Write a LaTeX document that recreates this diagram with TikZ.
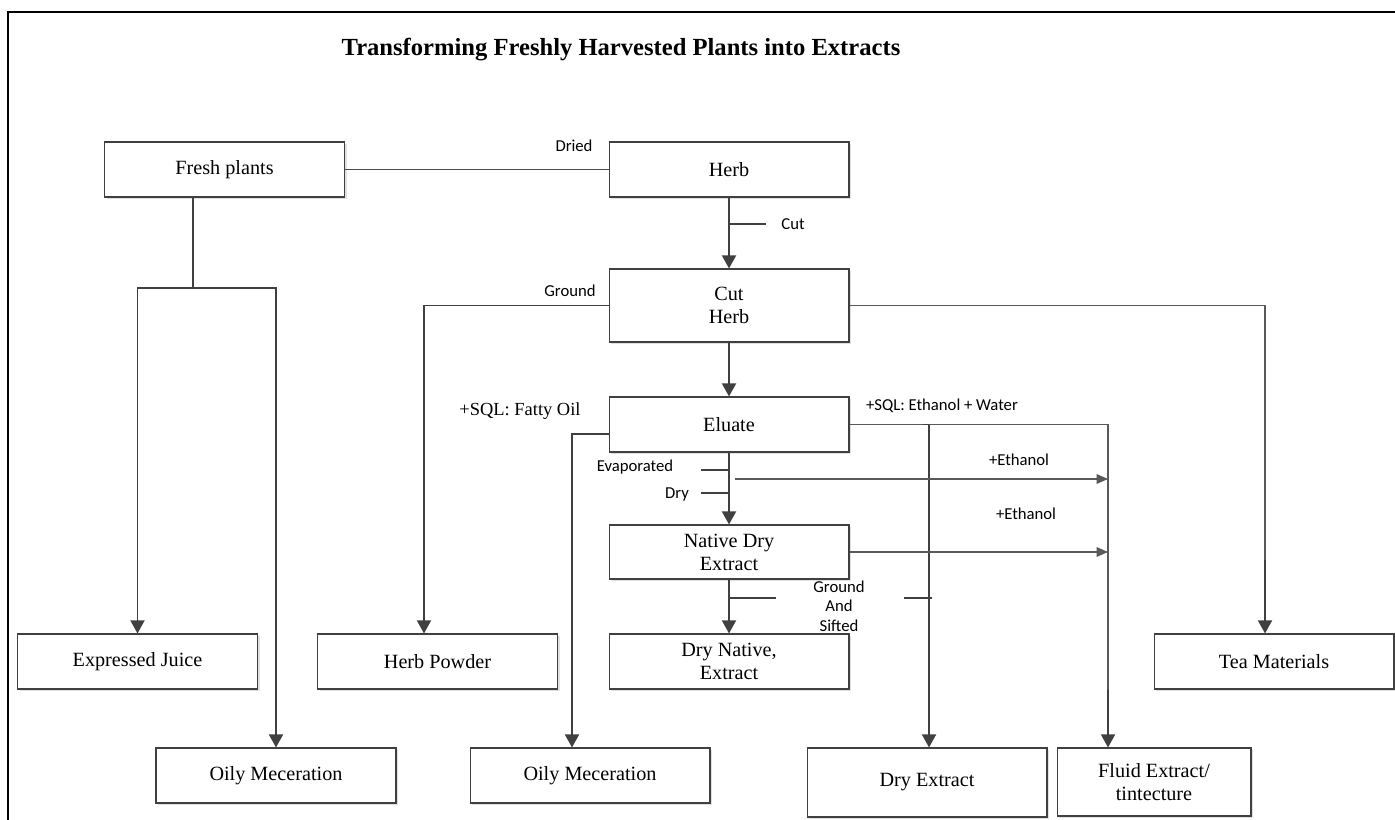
\documentclass[tikz,border=0pt]{standalone}
\usepackage{fontspec}
\setmainfont{Liberation Serif}
\newfontfamily\lblfont{Carlito}
\usetikzlibrary{arrows.meta,shadows}

\begin{document}
\begin{tikzpicture}[x=0.02cm,y=-0.02cm,
  box/.style={draw=black!75,line width=0.6pt,fill=white,minimum width=4.8cm,
    minimum height=1.1cm,align=center,inner sep=1pt,
    font=\fontsize{11.5}{13}\selectfont,
    drop shadow={shadow xshift=1.2pt,shadow yshift=-1.2pt,fill=black!12,opacity=1}},
  lbl/.style={font=\lblfont\fontsize{9.5}{11}\selectfont,align=center,inner sep=0pt},
  main/.style={draw=black!75,line width=1.1pt},
  arr/.style={main,-{Triangle[length=7.5pt,width=8pt]}},
  thin/.style={draw=black!65,line width=0.6pt},
  tarr/.style={thin,-{Triangle[length=6.5pt,width=5.5pt]}}]
  \useasboundingbox (0,0) rectangle (1395,820);
  \draw[line width=1.2pt] (8,820) |- (1395,12);
  \node[font=\bfseries\fontsize{14}{16}\selectfont] (ttl) at (621,50) {Transforming Freshly Harvested Plants into Extracts};

  \node[box] (fp) at (224.5,169.5) {Fresh plants};
  \node[box] (hb) at (729,169.5) {Herb};
  \node[box,minimum height=1.46cm] (ch) at (729,305.5) {Cut\\Herb};
  \node[box] (el) at (729,424.5) {Eluate};
  \node[box,minimum height=1.08cm] (nd) at (729,552) {Native Dry\\Extract};
  \node[box] (dn) at (729,661.5) {Dry Native,\\Extract};
  \node[box] (ej) at (137.5,661.5) {Expressed Juice};
  \node[box] (hp) at (437.5,661.5) {Herb Powder};
  \node[box] (tm) at (1274,661.5) {Tea Materials};
  \node[box] (om1) at (276,775.5) {Oily Meceration};
  \node[box] (om2) at (590,775.5) {Oily Meceration};
  \node[box,minimum height=1.38cm] (de) at (927,782.5) {Dry Extract};
  \node[box,minimum width=3.88cm,minimum height=1.36cm] (fe) at (1154,782) {Fluid Extract/\\tintecture};

  \node[lbl] (ldr) at (574,146) {Dried};
  \node[lbl] (lct) at (793,224) {Cut};
  \node[lbl] (lgr) at (570,291) {Ground};
  \node[lbl,font=\fontsize{10.5}{12}\selectfont] (lfo) at (520,411) {+SQL: Fatty Oil};
  \node[lbl] (lew) at (942,406) {+SQL: Ethanol + Water};
  \node[lbl] (lev) at (635,467) {Evaporated};
  \node[lbl] (ldy) at (677,494) {Dry};
  \node[lbl] (le1) at (1019,460) {+Ethanol};
  \node[lbl] (le2) at (1026,514) {+Ethanol};
  \node[lbl] (lgs) at (839,606) {Ground\\And\\Sifted};

  \coordinate (fj) at (193,288);
  \coordinate (tc) at (766,224);
  \coordinate (gp) at (424,305.5);
  \coordinate (tp) at (1265,305.5);
  \coordinate (tq) at (1265,560);
  \coordinate (fo) at (572,434);
  \coordinate (fx) at (1108,424.5);
  \coordinate (fy) at (1108,690);
  \coordinate (dx) at (929,424.5);
  \coordinate (tev) at (701,470);
  \coordinate (tdy) at (701,493);
  \coordinate (e1) at (735,479);
  \coordinate (gs1) at (776,598);
  \coordinate (gs2) at (904,598);
  \coordinate (gs3) at (932,598);

  \draw[line width=0.8pt,draw=black!70] (fp) -- (hb);
  \draw[main] (fp.south -| fj) -- (fj);
  \draw[arr] (fj) -| (ej.north);
  \draw[arr] (fj) -| (om1.north);
  \draw[arr] (hb) -- (ch);
  \draw[main] (tc) -- (tc -| hb);
  \draw[arr] (ch.west) -- (gp) -- (gp |- hp.north);
  \draw[thin] (ch.east) -- (tp) -- (tq);
  \draw[arr] (tq) -- (tq |- tm.north);
  \draw[arr] (ch) -- (el);
  \draw[arr] (el.west |- fo) -- (fo) -- (fo |- om2.north);
  \draw[thin] (el.east) -- (fx) -- (fy);
  \draw[arr] (fy) -- (fy |- fe.north);
  \draw[main] ([xshift=-0.12cm]dx) -- (dx);
  \draw[arr] (dx) -- (dx |- de.north);
  \draw[arr] (el) -- (nd);
  \draw[main] (tev) -- (tev -| el);
  \draw[main] (tdy) -- (tdy -| el);
  \draw[tarr] (e1) -- (e1 -| fx);
  \draw[tarr] (nd.east) -- (nd.east -| fx);
  \draw[arr] (nd) -- (dn);
  \draw[main] (gs1) -- (gs1 -| nd);
  \draw[main] (gs2) -- (gs3);
\end{tikzpicture}
\end{document}
